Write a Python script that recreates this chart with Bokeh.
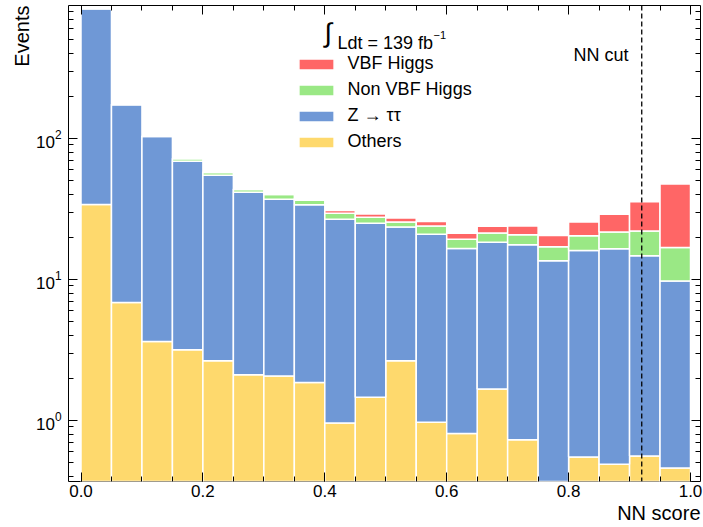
import numpy as np
from bokeh.plotting import figure
from bokeh.models import (ColumnDataSource, Span, Label, Legend, LegendItem, LinearAxis,
                          SingleIntervalTicker, LogTicker, PrintfTickFormatter, Title)
from bokeh.embed import file_html
from bokeh.resources import INLINE

# ---------------- data ----------------
bin_low = [0.00, 0.05, 0.10, 0.15, 0.20, 0.25, 0.30, 0.35, 0.40, 0.45,
           0.50, 0.55, 0.60, 0.65, 0.70, 0.75, 0.80, 0.85, 0.90, 0.95]
bin_width = 0.05
others = [34.0, 6.87, 3.63, 3.17, 2.65, 2.11, 2.07, 1.86, 0.96, 1.46,
          2.65, 0.97, 0.81, 1.67, 0.73, 0.0, 0.55, 0.49, 0.56, 0.46]
ztautau = [798.0, 167.0, 99.7, 65.8, 52.3, 39.5, 35.0, 32.1, 25.8, 23.6,
           20.9, 20.0, 15.8, 16.7, 16.9, 13.6, 15.5, 16.0, 14.2, 9.3]
nonvbf = [0.5, 0.5, 0.5, 3.0, 2.5, 1.9, 3.0, 2.5, 2.7, 2.6,
          2.0, 3.0, 2.7, 3.0, 3.1, 3.5, 4.4, 5.2, 7.3, 7.1]
vbf = [0.1, 0.1, 0.1, 0.3, 0.3, 0.3, 0.6, 1.0, 1.4, 1.5,
       1.7, 1.8, 2.0, 2.5, 3.2, 3.4, 5.1, 7.3, 13.6, 30.8]
series_names = ["Others", "Z \u2192 \u03c4\u03c4", "Non VBF Higgs", "VBF Higgs"]
series_colors = ["#fed96d", "#6f98d6", "#9ae885", "#ff6666"]
nn_cut = 0.92
x_ticks_interval = 0.2

FONT = "Liberation Sans"

# reference-pixel helpers for annotation placement
def dx(px):
    return (px - 80.5) / 609.5

def dy(py):
    return 10 ** ((420.0 - py) / 141.0)

# ---------------- stacking ----------------
floor = 1e-3
layers = [others, ztautau, nonvbf, vbf]
cum = np.cumsum(np.array(layers, dtype=float), axis=0)
data = {"x": np.array(bin_low) + bin_width / 2}
for i in range(len(layers)):
    bot = np.full(len(bin_low), floor) if i == 0 else np.maximum(cum[i - 1], floor)
    data[f"b{i}"] = bot
    data[f"t{i}"] = np.maximum(cum[i], floor)
src = ColumnDataSource(data)

p = figure(frame_width=632, frame_height=476, y_axis_type="log",
           x_range=(dx(68), dx(700)), y_range=(dy(481), dy(5)),
           output_backend="svg", toolbar_location=None,
           min_border_left=68, min_border_right=3, min_border_top=5, min_border_bottom=46)
p.xgrid.visible = False
p.ygrid.visible = False
p.outline_line_color = "black"
p.outline_line_width = 1
p.background_fill_color = "white"
p.border_fill_color = "white"

renderers = []
for i in range(len(layers)):
    r = p.vbar(x="x", width=bin_width, bottom=f"b{i}", top=f"t{i}", source=src,
               fill_color=series_colors[i], line_color="white", line_width=1.5)
    renderers.append(r)

# main axes
xax = p.below[0]
yax = p.left[0]
xax.ticker = SingleIntervalTicker(interval=x_ticks_interval, num_minor_ticks=4)
xax.formatter = PrintfTickFormatter(format="%.1f")
yax.ticker = LogTicker(mantissas=[1], num_minor_ticks=10)
for ax in (xax, yax):
    ax.axis_line_color = None
    ax.major_tick_in = 9
    ax.major_tick_out = 0
    ax.minor_tick_in = 5
    ax.minor_tick_out = 0
    ax.major_tick_line_color = "black"
    ax.minor_tick_line_color = "black"
    ax.major_label_text_font = FONT
    ax.major_label_text_font_size = "17px"
    ax.major_label_text_color = "black"
xax.major_label_standoff = 3
yax.major_label_standoff = 7

# axis titles, right/top aligned like the reference
p.add_layout(Title(text="NN score", align="right", text_font=FONT, text_font_size="20px",
                   text_font_style="normal", text_color="black", standoff=0), "below")
p.add_layout(Title(text="Events", align="right", text_font=FONT, text_font_size="20px",
                   text_font_style="normal", text_color="black", standoff=0), "left")

# mirrored ticks on top and right (labels hidden)
top_ax = LinearAxis(ticker=SingleIntervalTicker(interval=x_ticks_interval, num_minor_ticks=4))
right_ax = LinearAxis(ticker=LogTicker(mantissas=[1], num_minor_ticks=10))
for ax in (top_ax, right_ax):
    ax.axis_line_color = None
    ax.major_tick_in = 9
    ax.major_tick_out = 0
    ax.minor_tick_in = 5
    ax.minor_tick_out = 0
    ax.major_tick_line_color = "black"
    ax.minor_tick_line_color = "black"
    ax.major_label_text_font_size = "1px"
    ax.major_label_text_alpha = 0
    ax.major_label_standoff = 0
p.add_layout(top_ax, "above")
p.add_layout(right_ax, "right")

# NN cut line
p.add_layout(Span(location=nn_cut, dimension="height", line_color="black",
                  line_dash="5 3", line_width=1.3))
p.add_layout(Label(x=dx(628), y=dy(54), text="NN cut", text_align="right",
                   text_baseline="alphabetic", text_font=FONT, text_font_size="18px",
                   text_color="black"))

# luminosity title
p.add_layout(Label(x=dx(324), y=dy(32), text="\u222b", text_font=FONT,
                   text_font_size="27px", text_color="black", text_baseline="alphabetic"))
p.add_layout(Label(x=dx(337), y=dy(42), text="Ldt = 139 fb", text_font=FONT,
                   text_font_size="18px", text_color="black", text_baseline="alphabetic"))
p.add_layout(Label(x=dx(433), y=dy(34), text="\u22121", text_font=FONT,
                   text_font_size="11px", text_color="black", text_baseline="alphabetic"))

# legend
order = [3, 2, 1, 0]
items = [LegendItem(label=series_names[i], renderers=[renderers[i]]) for i in order]
legend = Legend(items=items, location=(225.6, 329), padding=0, margin=0,
                spacing=5, glyph_width=44, glyph_height=14, label_height=21,
                label_standoff=10, border_line_color=None, background_fill_alpha=0,
                label_text_font=FONT, label_text_font_size="18px",
                label_text_color="black")
p.add_layout(legend)

open("out.html", "w").write(file_html(p, INLINE))
